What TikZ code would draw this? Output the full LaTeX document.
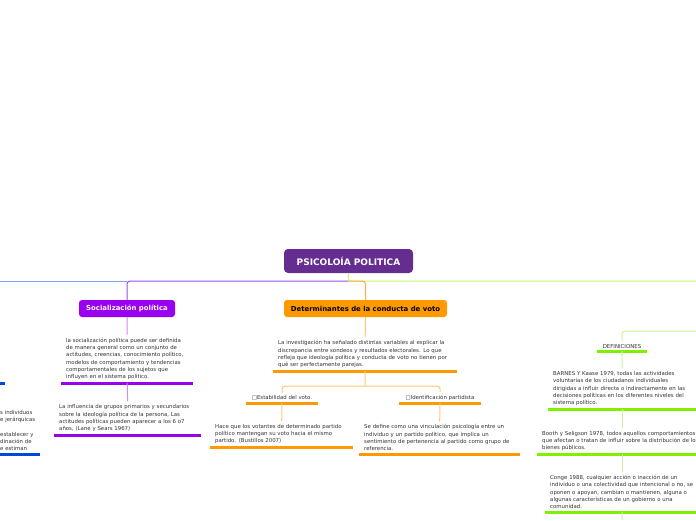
\documentclass[tikz,border=0pt]{standalone}
\usepackage{fontspec}
\setmainfont{DejaVu Sans}

\definecolor{titlepurple}{HTML}{652D90}
\definecolor{socpurple}{HTML}{9900EF}
\definecolor{purplemain}{HTML}{9A4DF5}
\definecolor{purplelight}{HTML}{C98EF5}
\definecolor{bluemain}{HTML}{7BA3F5}
\definecolor{bluedark}{HTML}{0047DC}
\definecolor{orangemain}{HTML}{FF9900}
\definecolor{orangelight}{HTML}{FFC870}
\definecolor{greenmain}{HTML}{C2F77A}
\definecolor{greendark}{HTML}{80F000}
\definecolor{greenlight}{HTML}{C8F59A}
\definecolor{notegray}{HTML}{333333}

\begin{document}
\begin{tikzpicture}[
  x=1pt, y=-1pt,
  central/.style={fill=titlepurple, text=white, rounded corners=4pt, minimum width=129pt, minimum height=24pt, inner sep=0pt, font=\fontsize{9}{10}\selectfont\bfseries},
  topic/.style={rounded corners=3pt, minimum height=17pt, inner sep=0pt, font=\fontsize{6.9}{8}\selectfont\bfseries},
  note/.style={align=left, text=notegray, inner xsep=5pt, inner ysep=3pt, font=\fontsize{5.4}{7.3}\selectfont},
  tag/.style={text=notegray, inner xsep=0pt, inner ysep=2.5pt, font=\fontsize{5.4}{6}\selectfont},
  uline/.style={line width=3pt},
  link/.style={line width=1pt}
]
  \useasboundingbox (0,0) rectangle (696,520);
  \clip (0,0) rectangle (696,520);

  % Central topic
  \node[central] (title) at (348.5,261) {PSICOLOÍA POLITICA};
  \coordinate (hub) at (348,281);
  \coordinate (leftend) at (0,281);
  \coordinate (rightend) at (696,281);

  % Main topics
  \node[topic, fill=socpurple, text=white, minimum width=96pt] (soc) at (127,308.5) {Socialización política};
  \node[topic, fill=orangemain, text=black, minimum width=163pt] (det) at (365.5,308.5) {Determinantes de la conducta de voto};

  % Branches from the centre
  \draw[link, greenmain, rounded corners=3pt] (title.south) -- (hub) -- (rightend);
  \draw[link, purplemain, rounded corners=3pt] (hub) -| (soc.north);
  \draw[link, bluemain] (soc.north |- hub) -- (leftend);
  \draw[link, orangemain!80, rounded corners=3pt] (hub) -| (det.north);

  % Socializacion politica
  \node[note, text width=122pt, anchor=south west] (soctext) at (61,383) {la socialización política puede ser definida\\de manera general como un conjunto de\\actitudes, creencias, conocimiento político,\\modelos de comportamiento y tendencias\\comportamentales de los sujetos que\\influyen en el sistema político.};
  \node[note, text width=137pt, anchor=south west] (inftext) at (54,435) {La influencia de grupos primarios y secundarios\\sobre la ideología política de la persona, Las\\actitudes políticas pueden aparecer a los 6 o7\\años, (Lane y Sears 1967)};
  \draw[uline, socpurple] (soctext.south west) -- (soctext.south east);
  \draw[uline, socpurple] (inftext.south west) -- (inftext.south east);
  \draw[link, purplelight] (soc.south) -- (soctext.north);
  \draw[link, purplelight] (soctext.south) -- (inftext.north);

  % Determinantes de la conducta de voto
  \node[note, text width=174pt, anchor=south west] (dettext) at (273,371) {La investigación ha señalado distintas variables al explicar la\\discrepancia entre sondeos y resultados electorales. Lo que\\refleja que ideología política y conducta de voto no tienen por\\qué ser perfectamente parejas.};
  \draw[uline, orangemain] (dettext.south west) -- (dettext.south east);
  \draw[link, orangelight] (det.south) -- (dettext.north);

  \node[tag, minimum width=72pt, anchor=south] (estlabel) at (282,403) {□Estabilidad del voto.};
  \node[tag, minimum width=81pt, anchor=south] (idlabel) at (440,403) {□Identificación partidista};
  \draw[uline, orangemain] (estlabel.south west) -- (estlabel.south east);
  \draw[uline, orangemain] (idlabel.south west) -- (idlabel.south east);
  \coordinate (split) at (365,386);
  \draw[link, orangelight] (dettext.south) -- (split);
  \draw[link, orangelight, rounded corners=3pt] (split) -| (estlabel.north);
  \draw[link, orangelight, rounded corners=3pt] (split) -| (idlabel.north);

  \node[note, text width=133pt, anchor=south west] (esttext) at (210,447) {Hace que los votantes de determinado partido\\político mantengan su voto hacia el mismo\\partido. (Bustillos 2007)};
  \node[note, text width=151pt, anchor=south west] (idtext) at (359,454) {Se define como una vinculación psicología entre un\\individuo y un partido político, que implica un\\sentimiento de pertenencia al partido como grupo de\\referencia.};
  \draw[uline, orangemain] (esttext.south west) -- (esttext.south east);
  \draw[uline, orangemain] (idtext.south west) -- (idtext.south east);
  \draw[link, orangelight] (estlabel.south) -- (esttext.north);
  \draw[link, orangelight] (idlabel.south) -- (idtext.north);

  % Definiciones (right)
  \coordinate (defin) at (696,331);
  \coordinate (defout) at (622,520);
  \node[tag, minimum width=50pt, anchor=south] (deflabel) at (622,351) {DEFINICIONES};
  \draw[uline, greendark] (deflabel.south west) -- (deflabel.south east);
  \draw[link, greenlight, rounded corners=3pt] (defin) -| (deflabel.north);

  \node[note, text width=138pt, anchor=south west] (barnes) at (548,409) {BARNES Y Kaase 1979, todas las actividades\\voluntarias de los ciudadanos individuales\\dirigidas a influir directa o indirectamente en las\\decisiones políticas en los diferentes niveles del\\sistema político.};
  \node[note, text width=160pt, anchor=south west] (booth) at (537,454) {Booth y Seligson 1978, todos aquellos comportamientos\\que afectan o tratan de influir sobre la distribución de los\\bienes públicos.};
  \node[note, text width=144pt, anchor=south west] (conge) at (545,512) {Conge 1988, cualquier acción o inacción de un\\individuo o una colectividad que intencional o no, se\\oponen o apoyan, cambian o mantienen, alguna o\\algunas características de un gobierno o una\\comunidad.};
  \draw[uline, greendark] (barnes.south west) -- (barnes.south east);
  \draw[uline, greendark] (booth.south west) -- (booth.south east);
  \draw[uline, greendark] (conge.south west) -- (conge.south east);
  \draw[link, greenlight] (deflabel.south) -- (barnes.north);
  \draw[link, greenlight] (barnes.south) -- (booth.north);
  \draw[link, greenlight] (booth.south) -- (conge.north);
  \draw[link, greenlight] (conge.south) -- (defout);

  % Left branch (cut off)
  \node[note, text width=0pt, inner xsep=0pt, minimum width=10pt, anchor=south east] (lefta) at (5,383) {};
  \node[note, text width=35pt, anchor=south west] (leftb) at (-5,454) {s~individuos\\e~jerárquicas\\[7.3pt]establecer~y\\dinación~de\\e~estiman};
  \draw[uline, bluedark] (lefta.south west) -- (lefta.south east);
  \draw[uline, bluedark] (leftb.south west) -- (leftb.south east);
\end{tikzpicture}
\end{document}
